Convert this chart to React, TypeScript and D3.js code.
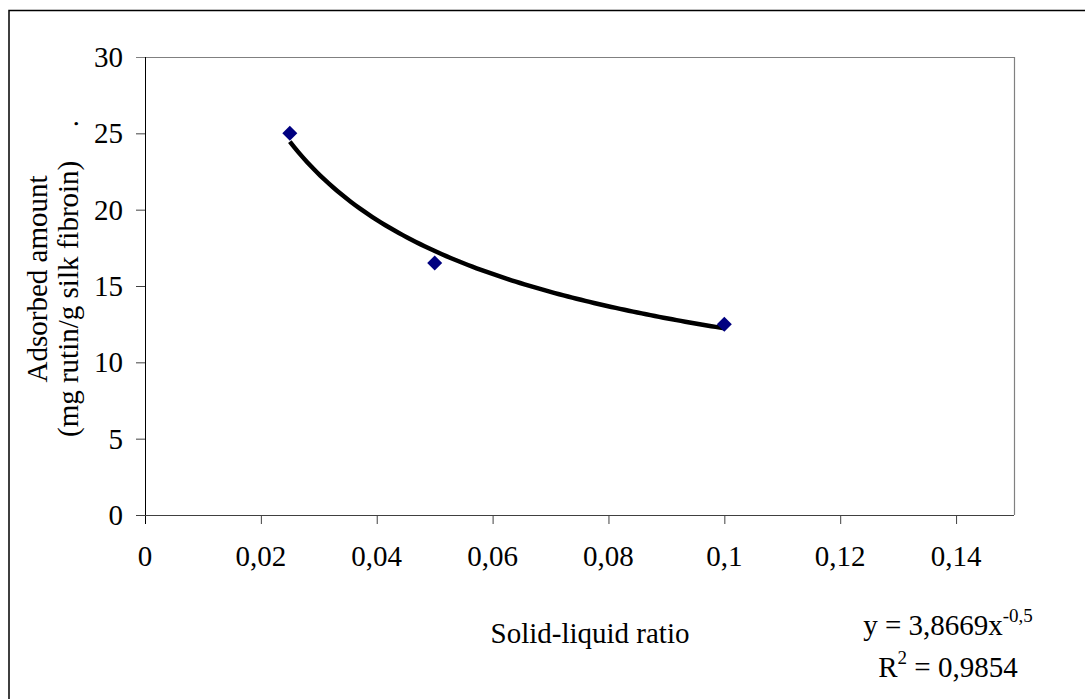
import React from "react";
import * as d3 from "d3";

const xTicks = [0, 0.02, 0.04, 0.06, 0.08, 0.1, 0.12, 0.14];
const yTicks = [0, 5, 10, 15, 20, 25, 30];
const ratio = [0.025, 0.05, 0.1];
const adsorbed = [25.0, 16.5, 12.5];
const trendCoef = 3.8669;
const trendExp = -0.5;
const trendRange = [0.025, 0.1];

const W = 1085, H = 699;
const m = { left: 145, top: 57, right: 1014, bottom: 515 };
const FONT = "'Liberation Serif', 'Times New Roman', serif";
const FS = 29;

export default function App() {
  const x = d3.scaleLinear().domain([0, 0.15]).range([m.left, m.right]);
  const y = d3.scaleLinear().domain([0, 30]).range([m.bottom, m.top]);
  const fmt = (v: number) => (v === 0 ? "0" : String(+v.toFixed(2)).replace(".", ","));

  const trendPts: [number, number][] = d3.range(0, 101).map((i) => {
    const xv = trendRange[0] + (trendRange[1] - trendRange[0]) * (i / 100);
    return [xv, trendCoef * Math.pow(xv, trendExp)];
  });
  const line = d3.line<[number, number]>().x((d) => x(d[0])).y((d) => y(d[1])).curve(d3.curveLinear);

  return (
    <svg width={W} height={H} style={{ position: "absolute", left: 0, top: 0, display: "block" }} fontFamily={FONT}>
      <rect x={0} y={0} width={W} height={H} fill="#fff" />
      <rect x={9} y={10.5} width={1100} height={720} fill="none" stroke="#000" strokeWidth={1.5} />
      {/* plot frame */}
      <line x1={m.left - 9} x2={m.right} y1={m.top + 0.5} y2={m.top + 0.5} stroke="#808080" strokeWidth={1.2} />
      <line x1={m.right + 0.5} x2={m.right + 0.5} y1={m.top} y2={m.bottom} stroke="#808080" strokeWidth={1.2} />
      {/* y axis */}
      <line x1={m.left + 0.5} x2={m.left + 0.5} y1={m.top} y2={m.bottom + 9} stroke="#000" strokeWidth={1} />
      {yTicks.map((t) => (
        <g key={"y" + t}>
          {t !== 30 && <line x1={m.left - 9} x2={m.left} y1={y(t) + 0.5} y2={y(t) + 0.5} stroke="#404040" strokeWidth={1} />}
          <text x={123} y={y(t) + 10} fontSize={FS} textAnchor="end">{t}</text>
        </g>
      ))}
      {/* x axis */}
      <line x1={m.left - 9} x2={m.right} y1={m.bottom + 0.5} y2={m.bottom + 0.5} stroke="#404040" strokeWidth={1.2} />
      {xTicks.map((t) => (
        <g key={"x" + t}>
          {t !== 0 && <line x1={x(t) + 0.5} x2={x(t) + 0.5} y1={m.bottom} y2={m.bottom + 9} stroke="#404040" strokeWidth={1} />}
          <text x={x(t)} y={566} fontSize={FS} textAnchor="middle">{fmt(t)}</text>
        </g>
      ))}
      {/* trend line */}
      <path d={line(trendPts) || ""} fill="none" stroke="#000" strokeWidth={4.5} />
      {/* markers */}
      {ratio.map((r, i) => {
        const cx = x(r), cy = y(adsorbed[i]);
        const s = 7.5;
        return <path key={"m" + i} d={`M${cx},${cy - s}L${cx + s},${cy}L${cx},${cy + s}L${cx - s},${cy}Z`} fill="#000080" />;
      })}
      {/* axis titles */}
      <text x={590} y={643} fontSize={FS} textAnchor="middle">Solid-liquid ratio</text>
      <g transform="translate(47,279) rotate(-90)">
        <text x={0} y={0} fontSize={FS} textAnchor="middle">Adsorbed amount</text>
      </g>
      <g transform="translate(78,437) rotate(-90)">
        <text x={0} y={0} fontSize={FS} textAnchor="start">(mg rutin/g silk fibroin)</text>
      </g>
      <g transform="translate(78,120) rotate(-90)">
        <text x={0} y={0} fontSize={FS} textAnchor="end">.</text>
      </g>
      {/* equation */}
      <text x={948} y={635} fontSize={FS} textAnchor="middle">
        y = 3,8669x<tspan dy={-13} fontSize={19}>-0,5</tspan>
      </text>
      <text x={948} y={677} fontSize={FS} textAnchor="middle">
        R<tspan dy={-13} fontSize={19}>2</tspan><tspan dy={13}> = 0,9854</tspan>
      </text>
    </svg>
  );
}
